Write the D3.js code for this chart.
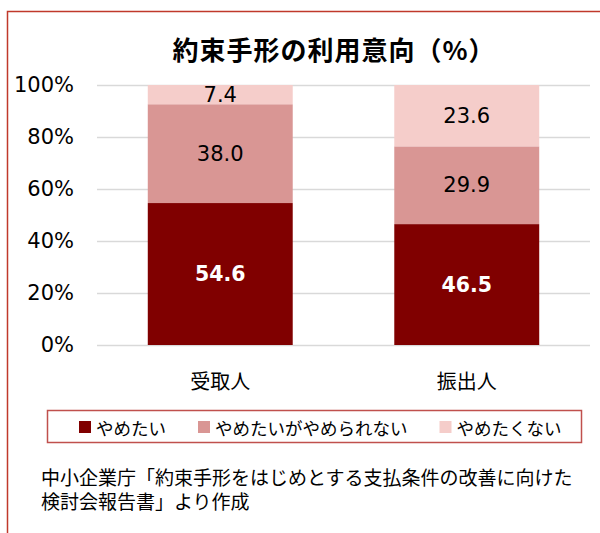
<!DOCTYPE html>
<html>
<head>
<meta charset="utf-8">
<script src="https://cdn.jsdelivr.net/npm/d3@7"></script>
<style>
  body { margin: 0; background: #fff; }
  svg { display: block; }
</style>
</head>
<body>
<div id="chart"></div>
<script>
// data
const categories = ['受取人', '振出人'];
const seriesNames = ['やめたい', 'やめたいがやめられない', 'やめたくない'];
const yametai = [54.6, 46.5];
const yameraren = [38.0, 29.9];
const yametakunai = [7.4, 23.6];
const yTicks = [0, 20, 40, 60, 80, 100];
const colors = ['#800000', '#d99694', '#f5cdca'];

const width = 600, height = 533;
const jp = '"Noto Sans CJK JP", sans-serif';
const num = '"DejaVu Sans", Verdana, sans-serif';

const svg = d3.select('#chart').append('svg')
  .attr('width', width)
  .attr('height', height);

// outer frame (runs off the right/bottom edge like the reference)
svg.append('rect')
  .attr('x', 7.5).attr('y', 11.5)
  .attr('width', 620).attr('height', 560)
  .attr('fill', 'none')
  .attr('stroke', '#c0392b')
  .attr('stroke-width', 1.5);

// title
svg.append('text')
  .attr('x', 334).attr('y', 48)
  .attr('text-anchor', 'middle')
  .attr('dominant-baseline', 'central')
  .style('font-family', jp)
  .style('font-size', '26px')
  .style('font-weight', 'bold')
  .style('letter-spacing', '1px')
  .attr('fill', '#000')
  .text('約束手形の利用意向（%）');

const plot = { left: 97, right: 590, top: 85, bottom: 345 };

const x = d3.scaleBand()
  .domain(categories)
  .range([plot.left, plot.right])
  .paddingInner(0.412)
  .paddingOuter(0.206);

const y = d3.scaleLinear()
  .domain([0, 100])
  .range([plot.bottom, plot.top]);

// gridlines + tick labels
const yAxis = svg.append('g')
  .attr('transform', `translate(${plot.left},0)`)
  .call(d3.axisLeft(y)
    .tickValues(yTicks)
    .tickFormat(d => d + '%')
    .tickSizeInner(-(plot.right - plot.left))
    .tickSizeOuter(0)
    .tickPadding(23));
yAxis.select('.domain').remove();
yAxis.selectAll('line').attr('stroke', '#d9d9d9').attr('stroke-width', 1.5);
yAxis.selectAll('text')
  .style('font-family', num)
  .style('font-size', '21px')
  .attr('fill', '#000');

// stacked bars
const table = categories.map((c, i) => ({
  cat: c,
  [seriesNames[0]]: yametai[i],
  [seriesNames[1]]: yameraren[i],
  [seriesNames[2]]: yametakunai[i]
}));
const stacked = d3.stack().keys(seriesNames)(table);

const layers = svg.append('g').selectAll('g')
  .data(stacked)
  .enter().append('g')
  .attr('fill', (d, i) => colors[i]);

layers.selectAll('rect')
  .data(d => d)
  .enter().append('rect')
  .attr('x', d => x(d.data.cat))
  .attr('width', x.bandwidth())
  .attr('y', d => y(d[1]))
  .attr('height', d => y(d[0]) - y(d[1]));

// value labels
stacked.forEach((layer, li) => {
  svg.append('g').selectAll('text')
    .data(layer)
    .enter().append('text')
    .attr('x', d => x(d.data.cat) + x.bandwidth() / 2)
    .attr('y', d => y((d[0] + d[1]) / 2))
    .attr('text-anchor', 'middle')
    .attr('dominant-baseline', 'central')
    .style('font-family', num)
    .style('font-size', li === 0 ? '20.5px' : '21px')
    .style('font-weight', li === 0 ? 'bold' : 'normal')
    .attr('fill', li === 0 ? '#fff' : '#000')
    .text(d => (d[1] - d[0]).toFixed(1));
});

// category labels
const xAxis = svg.append('g')
  .attr('transform', `translate(0,${plot.bottom})`)
  .call(d3.axisBottom(x).tickSize(0).tickPadding(0));
xAxis.select('.domain').remove();
xAxis.selectAll('text')
  .attr('y', 35)
  .attr('dy', null)
  .attr('dominant-baseline', 'central')
  .style('font-family', jp)
  .style('font-size', '20px')
  .attr('fill', '#000');

// legend
const legend = svg.append('g');
legend.append('rect')
  .attr('x', 47.5).attr('y', 410.5)
  .attr('width', 534).attr('height', 32)
  .attr('fill', '#fff')
  .attr('stroke', '#c0504d')
  .attr('stroke-width', 1.5);

let lx = 79;
seriesNames.forEach((name, i) => {
  legend.append('rect')
    .attr('x', lx).attr('y', 421)
    .attr('width', 12).attr('height', 12)
    .attr('fill', colors[i]);
  const t = legend.append('text')
    .attr('x', lx + 17).attr('y', 427)
    .attr('dominant-baseline', 'central')
    .style('font-family', jp)
    .style('font-size', '17.5px')
    .attr('fill', '#000')
    .text(name);
  lx += 17 + t.node().getComputedTextLength() + 32;
});

// source note, one text block with two lines
const note = ['中小企業庁「約束手形をはじめとする支払条件の改善に向けた', '検討会報告書」より作成'];
svg.append('text')
  .attr('x', 41)
  .attr('y', 476)
  .attr('dominant-baseline', 'central')
  .style('font-family', jp)
  .style('font-size', '19px')
  .attr('fill', '#000')
  .selectAll('tspan')
  .data(note)
  .enter().append('tspan')
  .attr('x', 41)
  .attr('y', (d, i) => 476 + i * 24)
  .text(d => d);
</script>
</body>
</html>
